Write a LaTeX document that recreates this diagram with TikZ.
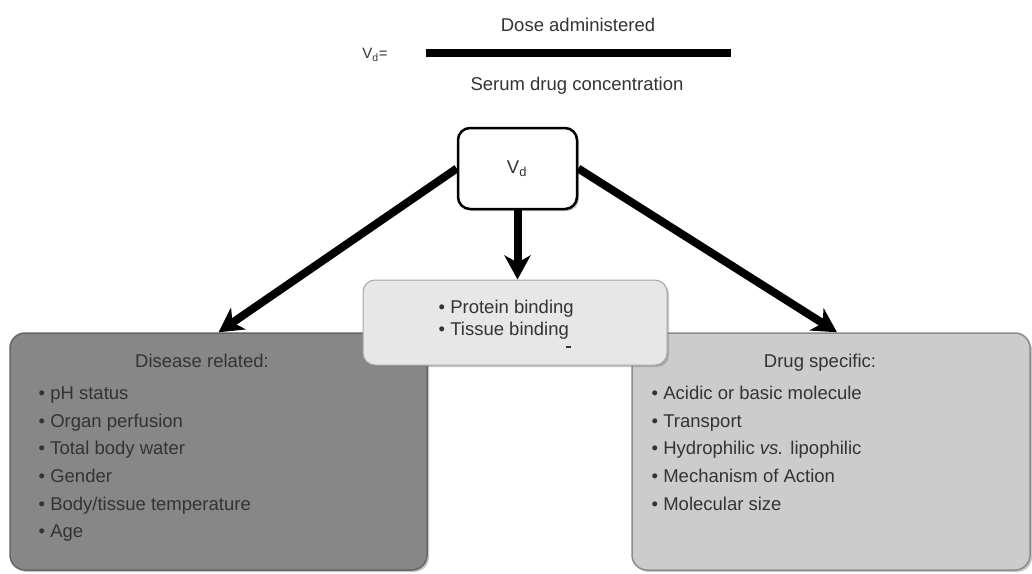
\documentclass[tikz,border=0pt]{standalone}
\usepackage{fontspec}
\setmainfont{Liberation Sans}
\usetikzlibrary{arrows.meta, shadows}
\definecolor{txtgray}{RGB}{51,51,51}
\definecolor{dkgray}{RGB}{135,135,135}
\definecolor{ltgray}{RGB}{204,204,204}
\definecolor{bindgray}{RGB}{231,231,231}

\begin{document}
\begin{tikzpicture}[x=1pt, y=-1pt,
  every node/.style={text=txtgray, font=\fontsize{18.5}{22}\selectfont},
  item/.style={anchor=base west, inner sep=0pt},
  panel/.style={rectangle, rounded corners=15pt, line width=1.5pt,
    drop shadow={shadow xshift=2pt, shadow yshift=-2pt, opacity=0.45}},
  bigarrow/.style={line width=8pt, -{Stealth[length=24pt, width=26pt, inset=7pt]}}
]
\useasboundingbox (0,0) rectangle (1032,573);

% formula
\node[anchor=base] (dose) at (578,31.5) {Dose administered};
\draw[line width=8pt] (426,53) -- (731,53);
\node[anchor=base] (serum) at (577,90) {Serum drug concentration};
\node[anchor=base, font=\fontsize{15}{18}\selectfont] (vdeq) at (375,58.5) {V\textsubscript{d}=};

% factor panels
\node[panel, fill=dkgray, draw=black!60, minimum width=417pt, minimum height=237pt] (dis) at (218.5,451.5) {};
\node[panel, fill=ltgray, draw=black!45, minimum width=398pt, minimum height=237pt] (drug) at (831,451.5) {};
\node[anchor=base] at (202,367.5) {Disease related:};
\node[anchor=base] at (820,367.5) {Drug specific:};
\foreach \t [count=\i] in {pH status, Organ perfusion, Total body water, Gender, Body/tissue temperature, Age}
  \node[item] at (38.5,{399.6+27.6*(\i-1)}) {\textbullet\ \t};
\foreach \t [count=\i] in {Acidic or basic molecule, Transport, {Hydrophilic \textit{vs.} lipophilic}, Mechanism of Action, Molecular size}
  \node[item] at (651.5,{399.6+27.6*(\i-1)}) {\textbullet\ \t};

% binding panel
\node[panel, rounded corners=12pt, fill=bindgray, draw=black!35, line width=1pt, minimum width=304pt, minimum height=85pt] (bind) at (515,322.5) {};
\node[item] at (438.5,313.5) {\textbullet\ Protein binding};
\node[item] at (438.5,335) {\textbullet\ Tissue binding};
\draw[line width=1.5pt, txtgray] (565.5,347) -- (570.5,347);

% Vd box
\node[panel, rounded corners=12pt, fill=white, draw=black, line width=2.5pt, minimum width=119pt, minimum height=81pt] (vd) at (517.5,168.5) {};
\node[anchor=base] at (517,173) {V\textsubscript{d}};

% arrows
\draw[bigarrow] (vd.west) -- (dis.north);
\draw[bigarrow] (vd.east) -- ([xshift=6pt]drug.north);
\draw[bigarrow] (vd.south) -- (vd.south |- bind.north);
\end{tikzpicture}
\end{document}
